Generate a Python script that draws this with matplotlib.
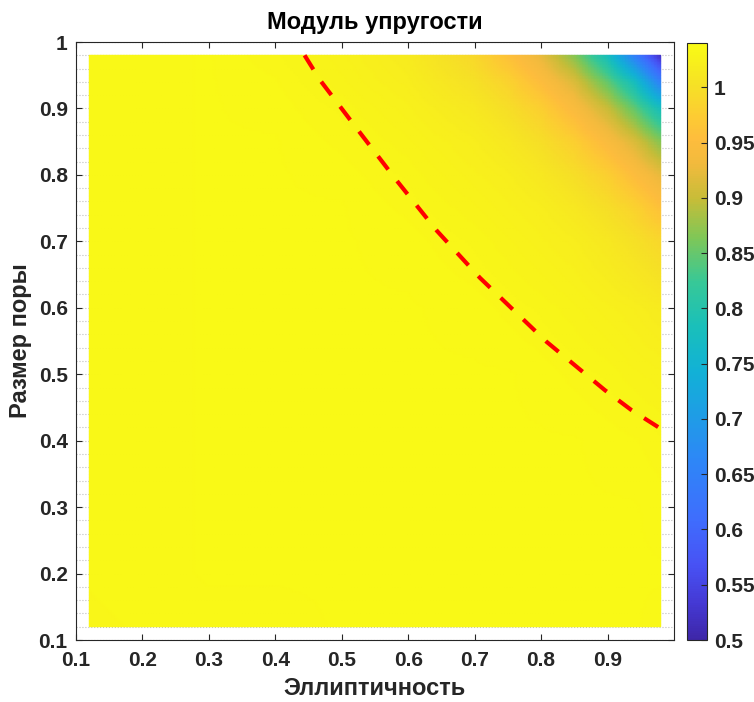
import numpy as np
import matplotlib
matplotlib.use("Agg")
import matplotlib.pyplot as plt
from matplotlib.colors import LinearSegmentedColormap

plt.rcParams['font.family'] = ['Liberation Sans', 'DejaVu Sans']
plt.rcParams['font.weight'] = 'bold'

# ellipticity (x) and pore size (y) grid nodes
ellipticity = [0.12, 0.2, 0.3, 0.4, 0.5, 0.6, 0.7, 0.75, 0.8, 0.85, 0.9, 0.94, 0.98]
pore_size = [0.12, 0.2, 0.3, 0.4, 0.5, 0.6, 0.7, 0.75, 0.8, 0.85, 0.9, 0.94, 0.98]

# normalised elastic modulus, one row per pore size
modulus = [
    [1.033, 1.034, 1.035, 1.035, 1.036, 1.036, 1.036, 1.036, 1.036, 1.036, 1.036, 1.036, 1.035],
    [1.034, 1.035, 1.036, 1.036, 1.036, 1.036, 1.036, 1.036, 1.036, 1.036, 1.036, 1.036, 1.036],
    [1.034, 1.035, 1.036, 1.036, 1.036, 1.036, 1.036, 1.036, 1.036, 1.036, 1.036, 1.036, 1.035],
    [1.034, 1.035, 1.036, 1.036, 1.036, 1.036, 1.036, 1.036, 1.036, 1.036, 1.035, 1.034, 1.032],
    [1.034, 1.035, 1.036, 1.036, 1.036, 1.036, 1.036, 1.036, 1.035, 1.033, 1.031, 1.028, 1.026],
    [1.034, 1.035, 1.036, 1.036, 1.036, 1.036, 1.035, 1.033, 1.031, 1.028, 1.024, 1.021, 1.016],
    [1.034, 1.035, 1.036, 1.036, 1.036, 1.035, 1.031, 1.028, 1.024, 1.020, 1.012, 1.002, 0.990],
    [1.034, 1.035, 1.036, 1.036, 1.036, 1.033, 1.028, 1.024, 1.020, 1.012, 0.999, 0.984, 0.960],
    [1.034, 1.035, 1.036, 1.036, 1.035, 1.031, 1.024, 1.020, 1.012, 0.999, 0.979, 0.953, 0.925],
    [1.034, 1.035, 1.036, 1.036, 1.033, 1.028, 1.020, 1.012, 0.999, 0.979, 0.946, 0.915, 0.868],
    [1.034, 1.035, 1.036, 1.035, 1.031, 1.024, 1.012, 0.999, 0.979, 0.946, 0.903, 0.850, 0.780],
    [1.034, 1.035, 1.036, 1.034, 1.028, 1.020, 1.002, 0.984, 0.953, 0.915, 0.850, 0.780, 0.650],
    [1.034, 1.035, 1.036, 1.032, 1.026, 1.016, 0.990, 0.960, 0.925, 0.868, 0.780, 0.650, 0.520],
]

# boundary curve (red dashed)
bound_x = [0.444, 0.467, 0.527, 0.583, 0.643, 0.708, 0.76, 0.808, 0.861, 0.896, 0.936, 0.98]
bound_y = [0.98, 0.943, 0.864, 0.791, 0.716, 0.645, 0.595, 0.549, 0.505, 0.476, 0.446, 0.418]

# parula colour anchors
parula_pos = [0.0, 0.0625, 0.125, 0.2, 0.3, 0.375, 0.45, 0.525, 0.6, 0.675,
              0.74, 0.8, 0.84, 0.88, 0.93, 1.0]
parula_rgb = [
    (0.2422, 0.1504, 0.6603), (0.2691, 0.2256, 0.8367), (0.2810, 0.3228, 0.9579),
    (0.2470, 0.4260, 0.9950), (0.1786, 0.5289, 0.9682), (0.1200, 0.6150, 0.9000),
    (0.0689, 0.6948, 0.8394), (0.1000, 0.7500, 0.7300), (0.2161, 0.7843, 0.5923),
    (0.5000, 0.7800, 0.3400), (0.7800, 0.7400, 0.2200), (0.9500, 0.7300, 0.2400),
    (0.9950, 0.7400, 0.2400), (0.9900, 0.8000, 0.2000), (0.9650, 0.8800, 0.1500),
    (0.9769, 0.9839, 0.0805),
]
parula = LinearSegmentedColormap.from_list(
    'parula', list(zip(parula_pos, parula_rgb)), N=256)

# bilinear refinement of the node table for smooth shading
fine_x = np.linspace(ellipticity[0], ellipticity[-1], 200)
fine_y = np.linspace(pore_size[0], pore_size[-1], 200)
Z = np.array(modulus)
Zx = np.array([np.interp(fine_x, ellipticity, row) for row in Z])
Zf = np.array([np.interp(fine_y, pore_size, col) for col in Zx.T]).T

W, H = 754, 702
fig = plt.figure(figsize=(W / 100, H / 100), dpi=100)
ax = fig.add_axes([76 / W, 62 / H, 598 / W, 598 / H])
cax = fig.add_axes([687 / W, 62 / H, 20 / W, 597 / H])

X, Y = np.meshgrid(fine_x, fine_y)
pc = ax.pcolormesh(X, Y, Zf, shading='gouraud', cmap=parula,
                   vmin=0.5, vmax=1.04, zorder=1)
ax.plot(bound_x, bound_y, color='red', lw=3, dashes=(4, 3.5), zorder=3)

ink = '0.15'
ax.set_xlim(0.1, 1.0)
ax.set_ylim(0.1, 1.0)
xt = np.round(np.arange(0.1, 0.91, 0.1), 2)
yt = np.round(np.arange(0.1, 1.01, 0.1), 2)
ax.set_xticks(xt)
ax.set_xticklabels([f'{t:g}' for t in xt])
ax.set_yticks(yt)
ax.set_yticklabels([f'{t:g}' for t in yt])
ax.set_yticks(np.arange(0.1, 1.001, 0.02), minor=True)
ax.set_axisbelow(True)
ax.grid(which='both', axis='y', ls=':', color='0.75', lw=0.8)
ax.tick_params(which='major', direction='in', top=True, right=True, length=4,
               width=0.8, color=ink, labelcolor=ink, labelsize=15)
ax.tick_params(axis='x', pad=8)
ax.tick_params(axis='y', pad=6)
ax.tick_params(which='minor', length=0)
for s in ax.spines.values():
    s.set_color(ink)
    s.set_linewidth(0.8)

ax.set_title('Модуль упругости', fontsize=17, fontweight='bold', pad=9)
ax.set_xlabel('Эллиптичность', fontsize=17, fontweight='bold', color=ink, labelpad=5)
ax.set_ylabel('Размер поры', fontsize=17, fontweight='bold', color=ink, labelpad=5)

cb = fig.colorbar(pc, cax=cax)
ct = np.round(np.arange(0.5, 1.001, 0.05), 2)
cb.set_ticks(ct)
cb.set_ticklabels([f'{t:g}' for t in ct])
cax.tick_params(direction='in', length=4, width=0.8, color=ink, labelcolor=ink,
                labelsize=15, pad=5)
cb.outline.set_edgecolor(ink)
cb.outline.set_linewidth(0.8)

fig.savefig('out.png', dpi=100)
